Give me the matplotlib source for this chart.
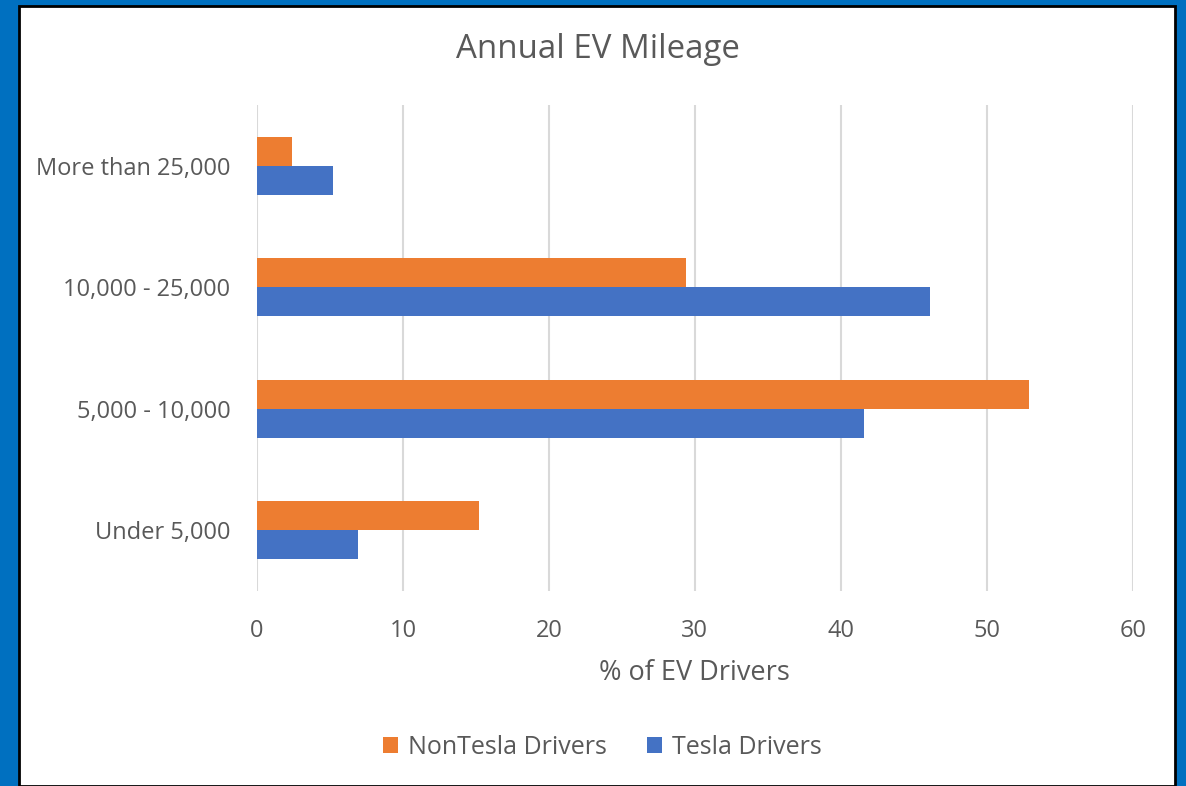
import matplotlib.pyplot as plt
from matplotlib.patches import Rectangle
import numpy as np

# Data (% of EV drivers)
categories = ['Under 5,000', '5,000 - 10,000', '10,000 - 25,000', 'More than 25,000']
tesla = [6.9, 41.6, 46.1, 5.2]
non_tesla = [15.2, 52.9, 29.4, 2.4]
x_ticks = [0, 10, 20, 30, 40, 50, 60]

TEXT = '#595959'
ORANGE = '#ED7D31'
BLUE = '#4472C4'

plt.rcParams['font.family'] = ['Open Sans', 'DejaVu Sans']

fig = plt.figure(figsize=(11.86, 7.86), dpi=100)
fig.patch.set_facecolor('#0070C0')

# white chart area with thin black edge
W, H = 1186, 786
fig.patches.append(Rectangle((19 / W, 0), (1175 - 19) / W, (786 - 6) / H,
                             transform=fig.transFigure, facecolor='white',
                             edgecolor='black', linewidth=2.0, zorder=-10))

ax = fig.add_axes([257 / W, 1 - 591 / H, (1132.7 - 257) / W, (591 - 105) / H])
ax.set_zorder(2)
ax.set_facecolor('none')

y = np.arange(len(categories))
h = 0.24
ax.barh(y - h / 2, tesla, height=h, color=BLUE, label='Tesla Drivers', zorder=3)
ax.barh(y + h / 2, non_tesla, height=h, color=ORANGE, label='NonTesla Drivers', zorder=3)

ax.set_xlim(0, 60)
ax.set_ylim(-0.5, len(categories) - 0.5)
ax.set_xticks(x_ticks)
ax.set_yticks(y)
ax.set_yticklabels(categories)
ax.tick_params(axis='both', length=0, labelsize=17, colors=TEXT)
ax.tick_params(axis='x', pad=20)
ax.tick_params(axis='y', pad=19)
ax.grid(axis='x', color='#D9D9D9', linewidth=1.5, zorder=0)
for s in ax.spines.values():
    s.set_visible(False)

ax.set_xlabel('% of EV Drivers', fontsize=19.5, color=TEXT, labelpad=12)
fig.text(598 / W, 1 - 50 / H, 'Annual EV Mileage', fontsize=23.8, color=TEXT,
         ha='center', va='center')

handles, labels = ax.get_legend_handles_labels()
leg = fig.legend(handles[::-1], labels[::-1], loc='center', bbox_to_anchor=(602 / W, 1 - 747 / H),
                 ncol=2, frameon=False, fontsize=18, handlelength=0.6, handleheight=0.6,
                 handletextpad=0.4, columnspacing=1.6)
for t in leg.get_texts():
    t.set_color(TEXT)

fig.savefig('out.png', dpi=100, facecolor=fig.get_facecolor())
